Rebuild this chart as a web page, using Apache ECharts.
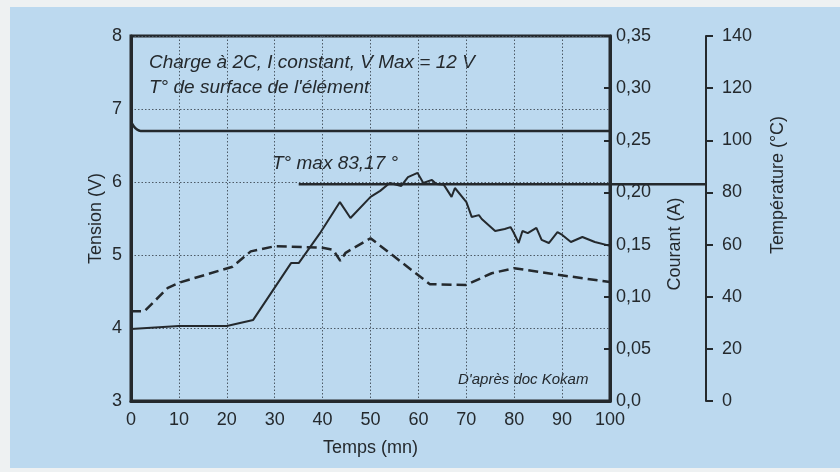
<!DOCTYPE html>
<html><head><meta charset="utf-8">
<script src="https://cdn.jsdelivr.net/npm/echarts@6/dist/echarts.min.js"></script>
<style>html,body{margin:0;padding:0;background:#eef1f2}#c{width:840px;height:472px}</style>
</head><body><div id="c"></div><script>
// ---- data ----
const timeTicks = [0, 10, 20, 30, 40, 50, 60, 70, 80, 90, 100];
const tensionTicks = [3, 4, 5, 6, 7, 8];
const courantTicks = ['0,0', '0,05', '0,10', '0,15', '0,20', '0,25', '0,30', '0,35'];
const tempTicks = [0, 20, 40, 60, 80, 100, 120, 140];

const voltTime = [0, 2.8, 7.7, 10, 21.2, 25, 30, 40, 42.2, 43.7, 44.8, 50, 62.4, 70, 75.3, 80, 89, 100];
const voltValue = [4.23, 4.23, 4.55, 4.62, 4.84, 5.05, 5.12, 5.1, 5.07, 4.92, 5.03, 5.23, 4.6, 4.59, 4.75, 4.82, 4.73, 4.63];

const curTime = [0, 0.5, 1.2, 2, 100];
const curValue = [0.268, 0.264, 0.2605, 0.259, 0.259];

const tempTime = [0, 10, 20, 25.5, 33.4, 35, 39.6, 43.6, 45.8, 50, 52, 54, 56.4, 57.8, 59.8, 61, 62.8, 63.7, 65.3, 66.9, 67.6, 70, 71.1, 72.6, 73.2, 76, 78, 79.2, 79.8, 80.9, 81.7, 82.8, 84.6, 85.7, 87.2, 89, 90, 91.8, 94.2, 96.8, 100];
const tempValue = [27.6, 28.8, 28.8, 31.1, 52.9, 52.9, 64.8, 76.3, 70.2, 78.3, 80.6, 83.6, 82.5, 85.9, 87.5, 83.6, 84.8, 83.2, 82.9, 78.3, 81.7, 76.3, 70.6, 71.3, 69.8, 65.2, 66.0, 66.7, 64.8, 60.6, 65.2, 64.4, 66.4, 61.8, 60.6, 64.8, 63.7, 61.0, 62.9, 61.0, 59.5];

const tMax = 83.17;
const tMaxLineTime = [35, 120];

// ---- chart ----
const zip = (a, b) => a.map((v, i) => [v, b[i]]);
const INK = '#24292d';
const FONT = '"Liberation Sans", Arial, sans-serif';
const lbl = { color: INK, fontFamily: FONT, fontSize: 18 };
const dotted = { show: true, lineStyle: { color: '#4d5a66', width: 1, type: [1.5, 2] } };

const chart = echarts.init(document.getElementById('c'), null, { renderer: 'canvas' });
chart.setOption({
  animation: false,
  backgroundColor: 'transparent',
  graphic: [
    { type: 'rect', z: -10, silent: true, shape: { x: 10, y: 7, width: 830, height: 461 }, style: { fill: '#bcd9ef' } },
    { type: 'text', x: 149, y: 63, style: { text: 'Charge à 2C, I constant, V Max = 12 V', font: 'italic 19px ' + FONT, fill: INK, textVerticalAlign: 'middle' } },
    { type: 'text', x: 149, y: 88, style: { text: "T° de surface de l'élément", font: 'italic 19px ' + FONT, fill: INK, textVerticalAlign: 'middle' } },
    { type: 'text', x: 272, y: 164, style: { text: 'T° max 83,17 °', font: 'italic 19px ' + FONT, fill: INK, textVerticalAlign: 'middle' } },
    { type: 'text', x: 458, y: 380, style: { text: "D'après doc Kokam", font: 'italic 15px ' + FONT, fill: INK, textVerticalAlign: 'middle' } },
    { type: 'text', x: 675, y: 244, rotation: Math.PI / 2, style: { text: 'Courant (A)', font: '18px ' + FONT, fill: INK, textAlign: 'center', textVerticalAlign: 'middle' } },
    { type: 'text', x: 778, y: 185, rotation: Math.PI / 2, style: { text: 'Température (°C)', font: '18px ' + FONT, fill: INK, textAlign: 'center', textVerticalAlign: 'middle' } }
  ],
  grid: [
    { left: 131, right: 230, top: 36, bottom: 71, show: true, borderColor: INK, borderWidth: 3, backgroundColor: 'transparent' },
    { left: 131, right: 134, top: 36, bottom: 71, show: false }
  ],
  xAxis: [
    { type: 'value', gridIndex: 0, min: timeTicks[0], max: timeTicks[timeTicks.length - 1], interval: 10,
      axisLine: { show: true, onZero: false, lineStyle: { color: INK, width: 3 } }, axisTick: { show: false },
      axisLabel: { ...lbl, margin: 10 }, splitLine: dotted,
      name: 'Temps (mn)', nameLocation: 'middle', nameGap: 38, nameMoveOverlap: false, nameTextStyle: { ...lbl } },
    { type: 'value', gridIndex: 1, min: 0, max: 120, show: false, axisLine: { onZero: false } }
  ],
  yAxis: [
    { type: 'value', gridIndex: 0, position: 'left', min: tensionTicks[0], max: tensionTicks[tensionTicks.length - 1], interval: 1,
      axisLine: { show: true, onZero: false, lineStyle: { color: INK, width: 3 } }, axisTick: { show: false },
      axisLabel: { ...lbl, margin: 9 }, splitLine: dotted,
      name: 'Tension (V)', nameLocation: 'middle', nameGap: 26, nameMoveOverlap: false, nameTextStyle: { ...lbl } },
    { type: 'value', gridIndex: 0, position: 'right', min: 0, max: 0.35, interval: 0.05,
      axisLine: { show: true, onZero: false, lineStyle: { color: INK, width: 3 } },
      axisTick: { show: true, inside: true, length: 6, lineStyle: { color: INK, width: 2 } },
      axisLabel: { ...lbl, margin: 6, formatter: v => courantTicks[Math.round(v / 0.05)] }, splitLine: { show: false } },
    { type: 'value', gridIndex: 1, position: 'right', min: tempTicks[0], max: tempTicks[tempTicks.length - 1], interval: 20,
      axisLine: { show: true, onZero: false, lineStyle: { color: INK, width: 2 } },
      axisTick: { show: true, inside: false, length: 7, lineStyle: { color: INK, width: 2 } },
      axisLabel: { ...lbl, margin: 16 }, splitLine: { show: false } }
  ],
  series: [
    { name: 'Tension', type: 'line', xAxisIndex: 0, yAxisIndex: 0, data: zip(voltTime, voltValue), showSymbol: false,
      lineStyle: { color: INK, width: 2.5, type: [10, 5] } },
    { name: 'Courant', type: 'line', xAxisIndex: 0, yAxisIndex: 1, data: zip(curTime, curValue), showSymbol: false, smooth: true,
      lineStyle: { color: INK, width: 2.5 } },
    { name: 'Température', type: 'line', xAxisIndex: 1, yAxisIndex: 2, data: zip(tempTime, tempValue), showSymbol: false,
      lineStyle: { color: INK, width: 2 } },
    { name: 'T max', type: 'line', xAxisIndex: 1, yAxisIndex: 2, data: tMaxLineTime.map(t => [t, tMax]), showSymbol: false,
      lineStyle: { color: INK, width: 2.5 } }
  ]
});
</script></body></html>
